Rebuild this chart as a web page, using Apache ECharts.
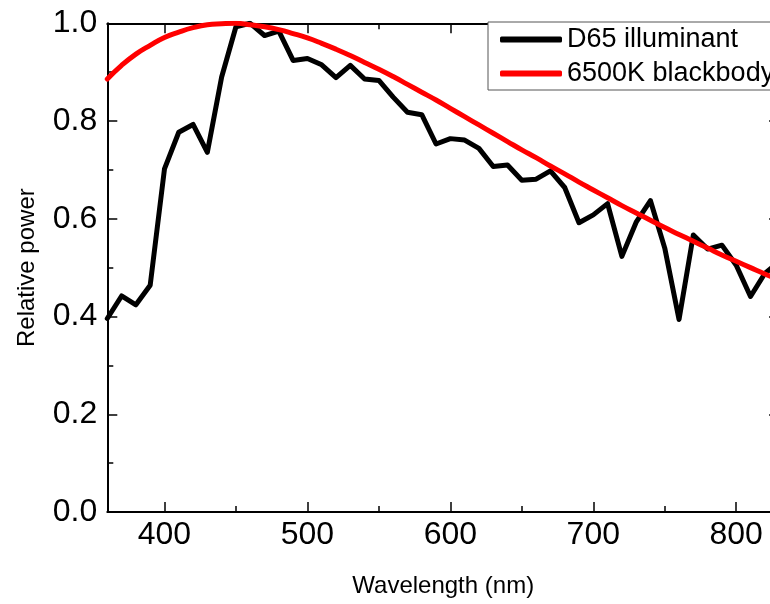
<!DOCTYPE html>
<html>
<head>
<meta charset="utf-8">
<script src="https://cdn.jsdelivr.net/npm/echarts@6/dist/echarts.min.js"></script>
<style>
html,body{margin:0;padding:0;background:#fff;overflow:hidden;width:770px;height:604px;}
#chart{width:782px;height:604px;}
</style>
</head>
<body>
<div id="chart"></div>
<script>
// Wavelengths (nm)
const wavelengths = [360,370,380,390,400,410,420,430,440,450,460,470,480,490,500,510,520,530,540,550,560,570,580,590,600,610,620,630,640,650,660,670,680,690,700,710,720,730,740,750,760,770,780,790,800,810,820,830];
// D65 illuminant, relative power
const d65 = [0.396,0.442,0.424,0.464,0.702,0.777,0.793,0.736,0.890,0.993,1.000,0.975,0.984,0.924,0.928,0.915,0.889,0.914,0.886,0.883,0.849,0.818,0.813,0.753,0.764,0.761,0.744,0.707,0.710,0.679,0.681,0.698,0.664,0.592,0.608,0.631,0.523,0.593,0.637,0.540,0.394,0.567,0.538,0.546,0.505,0.441,0.488,0.512];
// 6500K blackbody, relative power
const blackbody = [0.886,0.914,0.937,0.955,0.971,0.982,0.991,0.997,0.999,1.000,0.997,0.993,0.987,0.979,0.970,0.959,0.947,0.934,0.920,0.906,0.891,0.875,0.859,0.843,0.826,0.809,0.792,0.775,0.758,0.741,0.725,0.708,0.692,0.675,0.659,0.643,0.627,0.612,0.597,0.582,0.568,0.554,0.540,0.526,0.513,0.500,0.487,0.475];
const xMajorTicks = [400,500,600,700,800];
const xMinorTicks = [450,550,650,750];
const seriesNames = ['D65 illuminant','6500K blackbody'];

const FONT = "'Liberation Sans', Arial, sans-serif";
const chart = echarts.init(document.getElementById('chart'), null, {renderer:'canvas'});

function xAxisDef(pos, ticks, len, showLabels, showLine, name) {
  const a = {
    type:'value', position:pos, min:360, max:830,
    axisLine:{show:showLine, onZero:false, lineStyle:{color:'#000', width:2}},
    axisTick:{show:true, inside:true, length:len, customValues:ticks, lineStyle:{color:'#000', width:1.5}},
    axisLabel:{show:showLabels, customValues:ticks, margin:7, color:'#000', fontSize:32, fontFamily:FONT},
    splitLine:{show:false}
  };
  if (name) {
    a.name = name; a.nameLocation = 'middle'; a.nameGap = 62;
    a.nameTextStyle = {color:'#000', fontSize:24, fontFamily:FONT};
  }
  return a;
}
function yAxisDef(pos, showLabels, name) {
  const a = {
    type:'value', position:pos, min:0, max:1, interval:0.2,
    axisLine:{show:true, onZero:false, lineStyle:{color:'#000', width:2}},
    axisTick:{show:true, inside:true, length:10, lineStyle:{color:'#000', width:1.5}},
    minorTick:{show:true, splitNumber:2, length:6, lineStyle:{color:'#000', width:1.5}},
    axisLabel:{show:showLabels, margin:10, color:'#000', fontSize:32, fontFamily:FONT,
      formatter:v=>v.toFixed(1)},
    splitLine:{show:false}
  };
  if (name) {
    a.name = name; a.nameLocation = 'middle'; a.nameGap = 68;
    a.nameTextStyle = {color:'#000', fontSize:24, fontFamily:FONT};
  }
  return a;
}

const option = {
  backgroundColor:'#fff',
  animation:false,
  grid:{left:107.3, top:23.3, right:2.9, bottom:92},
  legend:{
    orient:'vertical', left:488, top:22,
    data:seriesNames,
    icon:'roundRect', itemWidth:62, itemHeight:6, itemGap:7,
    padding:[4,12,3,12],
    borderColor:'#555', borderWidth:1, backgroundColor:'#fff',
    textStyle:{color:'#000', fontSize:27, fontFamily:FONT, lineHeight:26}
  },
  xAxis:[
    xAxisDef('bottom', xMajorTicks, 10, true, true, 'Wavelength (nm)'),
    xAxisDef('bottom', xMinorTicks, 6, false, false),
    xAxisDef('top', xMajorTicks, 10, false, true),
    xAxisDef('top', xMinorTicks, 6, false, false)
  ],
  yAxis:[
    yAxisDef('left', true, 'Relative power'),
    yAxisDef('right', false)
  ],
  series:[
    {name:seriesNames[0], type:'line', xAxisIndex:0, yAxisIndex:0,
     data:wavelengths.map((w,i)=>[w,d65[i]]),
     showSymbol:false, symbol:'none',
     lineStyle:{color:'#000', width:5, join:'round', cap:'round'}, itemStyle:{color:'#000'}},
    {name:seriesNames[1], type:'line', xAxisIndex:0, yAxisIndex:0,
     data:wavelengths.map((w,i)=>[w,blackbody[i]]),
     showSymbol:false, symbol:'none', smooth:true,
     lineStyle:{color:'#ff0000', width:5, join:'round', cap:'round'}, itemStyle:{color:'#ff0000'}}
  ]
};
chart.setOption(option);
</script>
</body>
</html>
